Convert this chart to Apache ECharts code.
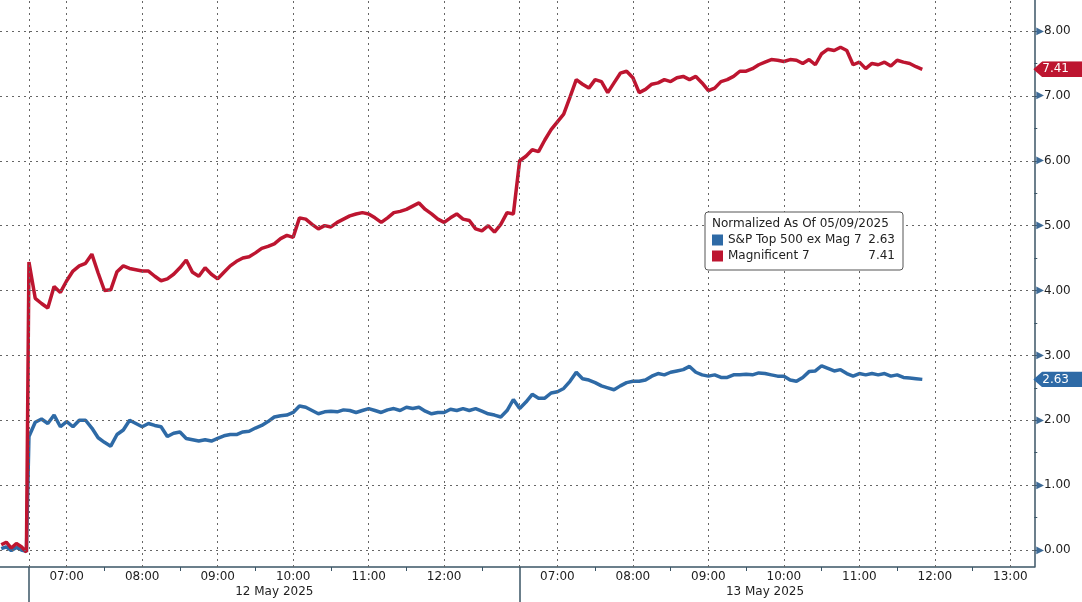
<!DOCTYPE html>
<html><head><meta charset="utf-8">
<script src="https://cdn.jsdelivr.net/npm/echarts@6/dist/echarts.min.js"></script>
<style>html,body{margin:0;padding:0;background:#fff}#c{width:1082px;height:602px}</style>
</head><body><div id="c"></div>
<script>
// ---- data (x in minutes on a compressed trading-session axis; 0 = 12 May 06:30, 390 = 13 May 06:30)
const seriesNames = ['S&P Top 500 ex Mag 7', 'Magnificent 7'];
const legendTitle = 'Normalized As Of 05/09/2025';
const dayLabels = ['12 May 2025', '13 May 2025'];
const sessionOpens = [0, 390];
const sessionLength = 390;
const stepMinutes = 5;
const day1HourLabels = ['07:00', '08:00', '09:00', '10:00', '11:00', '12:00'];
const day2HourLabels = ['07:00', '08:00', '09:00', '10:00', '11:00', '12:00', '13:00'];
const yTickValues = [0, 1, 2, 3, 4, 5, 6, 7, 8];
const yMinorTicks = [0.5, 1.5, 2.5, 3.5, 4.5, 5.5, 6.5, 7.5];

const preTimes = [-22, -18, -14, -10, -6, -2];
const preSpx = [0.02, 0.05, -0.01, 0.04, 0.00, -0.02];
const preMag = [0.08, 0.12, 0.03, 0.10, 0.05, -0.03];

const day1Mag = [
  4.44, 3.88, 3.80, 3.73, 4.06, 3.97, 4.15, 4.30, 4.38, 4.42,
  4.56, 4.27, 4.00, 4.01, 4.29, 4.38, 4.34, 4.32, 4.30, 4.30,
  4.22, 4.15, 4.18, 4.25, 4.35, 4.47, 4.28, 4.22, 4.35, 4.25,
  4.18, 4.28, 4.38, 4.45, 4.50, 4.52, 4.58, 4.65, 4.68, 4.72,
  4.80, 4.85, 4.82, 5.12, 5.10, 5.02, 4.95, 5.00, 4.98, 5.05,
  5.10, 5.15, 5.18, 5.20, 5.18, 5.12, 5.05, 5.12, 5.20, 5.22,
  5.25, 5.30, 5.35, 5.25, 5.18, 5.10, 5.05, 5.12, 5.18, 5.10,
  5.08, 4.95, 4.92, 5.00, 4.90, 5.02, 5.20, 5.18
];
const day1Spx = [
  1.75, 1.97, 2.02, 1.95, 2.08, 1.90, 1.98, 1.90, 2.00, 2.00,
  1.88, 1.73, 1.66, 1.60, 1.78, 1.85, 2.00, 1.95, 1.90, 1.95,
  1.92, 1.90, 1.75, 1.80, 1.82, 1.72, 1.70, 1.68, 1.70, 1.68,
  1.72, 1.76, 1.78, 1.78, 1.82, 1.83, 1.88, 1.92, 1.98, 2.05,
  2.07, 2.08, 2.12, 2.22, 2.20, 2.15, 2.10, 2.13, 2.14, 2.13,
  2.16, 2.15, 2.12, 2.15, 2.18, 2.15, 2.12, 2.16, 2.18, 2.15,
  2.20, 2.18, 2.20, 2.14, 2.10, 2.12, 2.12, 2.17, 2.15, 2.18,
  2.15, 2.18, 2.14, 2.10, 2.08, 2.05, 2.15, 2.32
];
const day2Mag = [
  6.00, 6.07, 6.17, 6.14, 6.32, 6.48, 6.60, 6.72, 6.98, 7.25,
  7.18, 7.12, 7.25, 7.22, 7.05, 7.20, 7.35, 7.38, 7.28, 7.05,
  7.10, 7.18, 7.20, 7.25, 7.22, 7.28, 7.30, 7.25, 7.30, 7.20,
  7.08, 7.12, 7.22, 7.25, 7.30, 7.38, 7.38, 7.42, 7.48, 7.52,
  7.56, 7.55, 7.53, 7.56, 7.55, 7.50, 7.56, 7.48, 7.65, 7.72,
  7.70, 7.75, 7.70, 7.48, 7.52, 7.42, 7.50, 7.48, 7.52, 7.46,
  7.55, 7.52, 7.50, 7.45, 7.41
];
const day2Spx = [
  2.18, 2.28, 2.40, 2.34, 2.34, 2.42, 2.44, 2.49, 2.60, 2.74,
  2.64, 2.62, 2.58, 2.53, 2.50, 2.47, 2.53, 2.58, 2.60, 2.60,
  2.62, 2.68, 2.72, 2.70, 2.74, 2.76, 2.78, 2.83, 2.74, 2.70,
  2.68, 2.70, 2.66, 2.66, 2.70, 2.70, 2.71, 2.70, 2.73, 2.72,
  2.70, 2.68, 2.68, 2.62, 2.60, 2.66, 2.75, 2.76, 2.84, 2.80,
  2.76, 2.78, 2.72, 2.68, 2.72, 2.70, 2.72, 2.70, 2.72, 2.68,
  2.70, 2.66, 2.65, 2.64, 2.63
];

// ---- build
const FONT = 'DejaVu Sans';
const RED = '#bd1530', BLUE = '#2e6aa6', AXIS = '#3b5566', TXT = '#222';
const SESSION_START_MIN = 6 * 60 + 30;

function clockToAxis(dayIdx, label) {
  const [h, m] = label.split(':').map(Number);
  return sessionOpens[dayIdx] + (h * 60 + m - SESSION_START_MIN);
}
function axisToClock(v) {
  const d = v >= sessionOpens[1] ? 1 : 0;
  const m = v - sessionOpens[d] + SESSION_START_MIN;
  const h = Math.floor(m / 60), mm = Math.round(m - h * 60);
  return String(h).padStart(2, '0') + ':' + String(mm).padStart(2, '0');
}
function buildSeries(pre, d1, d2) {
  const out = [];
  pre.forEach((v, i) => out.push([preTimes[i], v]));
  d1.forEach((v, i) => out.push([sessionOpens[0] + i * stepMinutes, v]));
  d2.forEach((v, i) => out.push([sessionOpens[1] + i * stepMinutes, v]));
  return out;
}
const spxData = buildSeries(preSpx, day1Spx, day2Spx);
const magData = buildSeries(preMag, day1Mag, day2Mag);
const lastSpx = day2Spx[day2Spx.length - 1];
const lastMag = day2Mag[day2Mag.length - 1];
const lastVals = { [seriesNames[0]]: lastSpx, [seriesNames[1]]: lastMag };

const hourValues = day1HourLabels.map(l => clockToAxis(0, l)).concat(day2HourLabels.map(l => clockToAxis(1, l)));
const halfHourValues = [];
hourValues.forEach(v => { if (v + 30 < sessionOpens[1] || (v > sessionOpens[1] && v + 30 < sessionOpens[1] + sessionLength)) halfHourValues.push(v + 30); });
const dayCenters = sessionOpens.map(o => o + sessionLength / 2);
const vGrid = [sessionOpens[0], sessionOpens[1]].concat(hourValues);

const X_MIN = -23, X_MAX = 799, Y_MIN = -0.262, Y_MAX = 8.478;

function arrowBox(color) {
  const svg = "<svg xmlns='http://www.w3.org/2000/svg' width='46' height='18' viewBox='0 0 46 18' preserveAspectRatio='none'><path d='M0 9 L7 0 H46 V18 H7 Z' fill='" + color + "'/></svg>";
  return { image: 'data:image/svg+xml;charset=utf-8,' + encodeURIComponent(svg) };
}

const chart = echarts.init(document.getElementById('c'), null, { renderer: 'canvas' });
chart.setOption({
  animation: false,
  backgroundColor: '#fff',
  textStyle: { fontFamily: FONT },
  grid: { left: 0, right: 45, top: 0, bottom: 35, containLabel: false },
  title: {
    text: legendTitle, left: 712, top: 218, padding: 0, z: 8,
    textStyle: { fontFamily: FONT, fontSize: 12, fontWeight: 'normal', color: TXT }
  },
  legend: {
    data: seriesNames, left: 705, top: 212, orient: 'vertical',
    padding: [21, 8, 7, 7], itemGap: 2, itemWidth: 11, itemHeight: 11, icon: 'rect',
    backgroundColor: '#fff', borderColor: '#555', borderWidth: 1, borderRadius: 3, z: 6,
    selectedMode: false,
    formatter: name => '{n|' + name + '}{v|' + lastVals[name].toFixed(2) + '}',
    textStyle: {
      fontFamily: FONT, fontSize: 12, color: TXT, lineHeight: 14,
      rich: { n: { width: 140, fontFamily: FONT, fontSize: 12, color: TXT },
              v: { width: 27, align: 'right', fontFamily: FONT, fontSize: 12, color: TXT } }
    }
  },
  xAxis: [{
    type: 'value', min: X_MIN, max: X_MAX, position: 'bottom',
    axisLine: { show: true, onZero: false, lineStyle: { color: AXIS, width: 1.5 } },
    axisTick: { show: true, customValues: halfHourValues, length: 4, lineStyle: { color: AXIS } },
    axisLabel: { customValues: hourValues, formatter: v => axisToClock(v), margin: 4,
                 fontFamily: FONT, fontSize: 12, color: TXT },
    splitLine: { show: false }
  }, {
    type: 'value', min: X_MIN, max: X_MAX, position: 'bottom',
    axisLine: { show: false, onZero: false },
    axisTick: { show: true, customValues: sessionOpens, length: 36, lineStyle: { color: AXIS, width: 1.5 } },
    axisLabel: { customValues: dayCenters, formatter: v => dayLabels[v < sessionOpens[1] ? 0 : 1], margin: 19,
                 fontFamily: FONT, fontSize: 12, color: TXT },
    splitLine: { show: false }
  }],
  yAxis: [{
    type: 'value', min: Y_MIN, max: Y_MAX, position: 'right',
    axisLine: { show: true, onZero: false, lineStyle: { color: AXIS, width: 1.5 } },
    axisTick: { show: true, customValues: yTickValues.concat(yMinorTicks), length: 3, lineStyle: { color: AXIS } },
    axisLabel: {
      customValues: yTickValues, margin: 2,
      formatter: v => '{a|▶}{b|' + v.toFixed(2) + '}',
      rich: { a: { fontSize: 10, color: '#3d6a96', fontFamily: FONT, padding: [0, 0, 0, 0] },
              b: { fontSize: 12, color: TXT, fontFamily: FONT } }
    },
    splitLine: { show: false }
  }, {
    type: 'value', min: Y_MIN, max: Y_MAX, position: 'right',
    axisLine: { show: false, onZero: false }, axisTick: { show: false }, splitLine: { show: false },
    axisLabel: {
      customValues: [lastSpx, lastMag], margin: -1,
      formatter: v => (v === lastMag ? '{r|' : '{b|') + v.toFixed(2) + '}',
      rich: {
        r: { color: '#fff', fontSize: 12, fontFamily: FONT, lineHeight: 14, padding: [2, 10, 2, 9], backgroundColor: arrowBox(RED) },
        b: { color: '#fff', fontSize: 12, fontFamily: FONT, lineHeight: 14, padding: [2, 10, 2, 9], backgroundColor: arrowBox(BLUE) }
      }
    }
  }],
  series: [{
    type: 'line', name: '_grid', data: [], z: 1, silent: true,
    markLine: {
      silent: true, symbol: 'none', label: { show: false }, animation: false,
      lineStyle: { color: '#666', type: [2, 4], width: 1 },
      data: vGrid.map(v => ({ xAxis: v })).concat(yTickValues.map(v => ({ yAxis: v })))
    }
  }, {
    type: 'line', name: seriesNames[0], data: spxData, showSymbol: false, symbol: 'none', z: 3,
    lineStyle: { color: BLUE, width: 3.5 }, itemStyle: { color: BLUE }
  }, {
    type: 'line', name: seriesNames[1], data: magData, showSymbol: false, symbol: 'none', z: 4,
    lineStyle: { color: RED, width: 3.5 }, itemStyle: { color: RED }
  }]
});
</script>
</body></html>
